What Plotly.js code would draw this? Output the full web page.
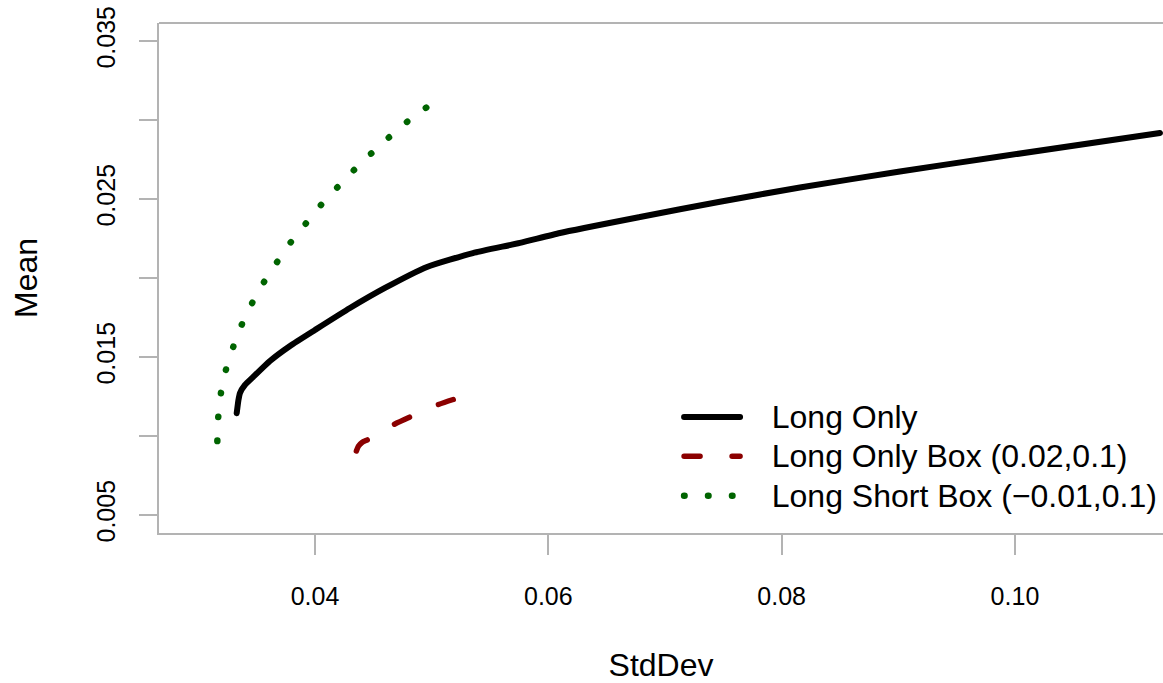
<!DOCTYPE html>
<html>
<head>
<meta charset="utf-8">
<script src="https://cdn.plot.ly/plotly-3.0.1.min.js"></script>
<style>
html,body{margin:0;padding:0;background:#fff;overflow:hidden;}
#chart{width:1163px;height:683px;}
path.js-line{stroke-linecap:round;}
.legend text.legendtext{font-size:32px !important;}
.legend .scrollbox, .legend g{clip-path:none !important;}
</style>
</head>
<body>
<div id="chart"></div>
<script>
// Long Only frontier
const longOnlyStd  = [0.03329,0.03344,0.03357,0.03400,0.03469,0.03614,0.03786,0.04000,0.04300,0.04600,0.04960,0.05354,0.05757,0.06100,0.06786,0.07471,0.08157,0.09014,0.09871,0.11243];
const longOnlyMean = [0.01144,0.01228,0.01272,0.01323,0.01373,0.01475,0.01570,0.01671,0.01810,0.01937,0.02070,0.02158,0.02222,0.02285,0.02386,0.02483,0.02573,0.02674,0.02769,0.02918];
// Long Only Box (0.02,0.1)
const boxStd  = [0.04355,0.04372,0.04403,0.04457,0.04557,0.04669,0.04823,0.05046,0.05185];
const boxMean = [0.00905,0.00935,0.00959,0.00978,0.01020,0.01070,0.01123,0.01196,0.01231];
// Long Short Box (-0.01,0.1)
const lsStd  = [0.03163,0.03171,0.03194,0.03237,0.03300,0.03374,0.03463,0.03565,0.03677,0.03794,0.03923,0.04054,0.04195,0.04337,0.04486,0.04637,0.04795,0.04960];
const lsMean = [0.00968,0.01120,0.01272,0.01420,0.01565,0.01707,0.01844,0.01977,0.02103,0.02228,0.02346,0.02464,0.02576,0.02685,0.02791,0.02892,0.02992,0.03082];

const seriesNames = ["Long Only","Long Only Box (0.02,0.1)","Long Short Box (\u22120.01,0.1)"];
const xTickVals = [0.04,0.06,0.08,0.10];
const xTickText = ["0.04","0.06","0.08","0.10"];
const yTickVals = [0.005,0.010,0.015,0.020,0.025,0.030,0.035];
const yTickText = ["0.005","","0.015","","0.025","","0.035"];

const FONT = "Liberation Sans, Arial, Helvetica, sans-serif";
const GAP = "\u00a0\u00a0\u00a0";

const traces = [
  {x:longOnlyStd, y:longOnlyMean, name:GAP + seriesNames[0], type:"scatter", mode:"lines",
   line:{color:"#000000", width:6, shape:"spline", smoothing:0.5}},
  {x:boxStd, y:boxMean, name:GAP + seriesNames[1], type:"scatter", mode:"lines",
   line:{color:"#8b0000", width:5.5, dash:"16px,32px", shape:"spline", smoothing:0.6}},
  {x:lsStd, y:lsMean, name:GAP + seriesNames[2], type:"scatter", mode:"lines",
   line:{color:"#006400", width:6.5, dash:"0.5px,23.45px", shape:"spline", smoothing:0.6}}
];

const axisCommon = {
  showgrid:false, zeroline:false, showline:true, linecolor:"#b3b3b3", linewidth:2,
  ticks:"outside", tickcolor:"#b3b3b3", tickwidth:2,
  tickfont:{family:FONT, size:25, color:"#000"}
};

const layout = {
  width:1163, height:683,
  margin:{l:159, r:0, t:23, b:150, pad:0},
  paper_bgcolor:"#fff", plot_bgcolor:"#fff",
  showlegend:true,
  legend:{x:0.518, xanchor:"left", y:0.276, yanchor:"top", bgcolor:"rgba(0,0,0,0)",
          font:{family:FONT, size:28, color:"#000"}, itemwidth:56, tracegroupgap:0, traceorder:"normal"},
  xaxis:Object.assign({}, axisCommon, {
    range:[0.02663,0.11269], tickvals:xTickVals, ticktext:xTickText, ticklen:20,
    ticklabelstandoff:20,
    title:{text:"StdDev", font:{family:FONT, size:32, color:"#000"}, standoff:57}
  }),
  yaxis:Object.assign({}, axisCommon, {
    range:[0.00386,0.03614], tickvals:yTickVals, ticktext:yTickText, ticklen:18,
    tickangle:-90, ticklabelstandoff:14,
    title:{text:"Mean", font:{family:FONT, size:32, color:"#000"}, standoff:45}
  }),
  shapes:[{type:"line", xref:"paper", yref:"paper", x0:0, x1:1, y0:1, y1:1,
           line:{color:"#b3b3b3", width:2}}]
};

Plotly.newPlot("chart", traces, layout, {displayModeBar:false, staticPlot:true});
</script>
</body>
</html>
